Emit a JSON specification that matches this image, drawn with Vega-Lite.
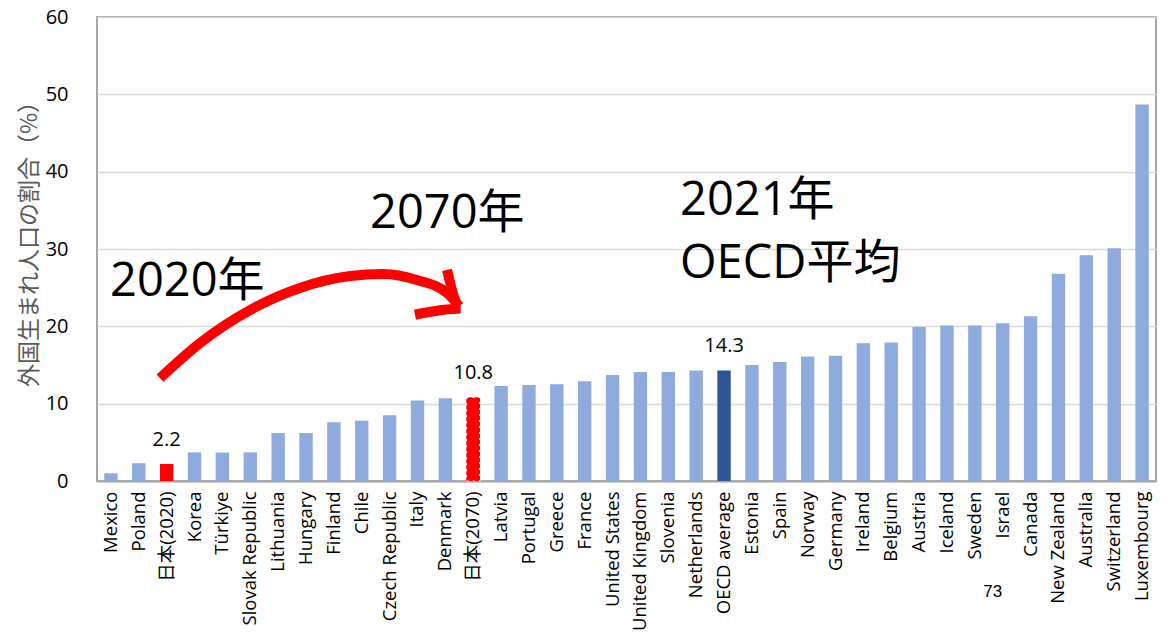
{
  "$schema": "https://vega.github.io/schema/vega-lite/v6.json",
  "autosize": {"type": "none"},
  "width": 1059,
  "height": 464,
  "padding": {"left": 97, "top": 17, "right": 20, "bottom": 156},
  "background": "white",
  "config": {
    "font": "Open Sans, Noto Sans CJK JP",
    "view": {"stroke": "#A6A6A6", "strokeWidth": 2}
  },
  "datasets": {
    "main": [
      {"country": "Mexico", "value": 1.0, "kind": "other"},
      {"country": "Poland", "value": 2.3, "kind": "other"},
      {"country": "日本(2020)", "value": 2.2, "kind": "jp", "label": "2.2"},
      {"country": "Korea", "value": 3.7, "kind": "other"},
      {"country": "Türkiye", "value": 3.7, "kind": "other"},
      {"country": "Slovak Republic", "value": 3.7, "kind": "other"},
      {"country": "Lithuania", "value": 6.2, "kind": "other"},
      {"country": "Hungary", "value": 6.2, "kind": "other"},
      {"country": "Finland", "value": 7.6, "kind": "other"},
      {"country": "Chile", "value": 7.8, "kind": "other"},
      {"country": "Czech Republic", "value": 8.5, "kind": "other"},
      {"country": "Italy", "value": 10.4, "kind": "other"},
      {"country": "Denmark", "value": 10.7, "kind": "other"},
      {"country": "日本(2070)", "value": 10.8, "kind": "jp", "label": "10.8"},
      {"country": "Latvia", "value": 12.3, "kind": "other"},
      {"country": "Portugal", "value": 12.4, "kind": "other"},
      {"country": "Greece", "value": 12.5, "kind": "other"},
      {"country": "France", "value": 12.9, "kind": "other"},
      {"country": "United States", "value": 13.7, "kind": "other"},
      {"country": "United Kingdom", "value": 14.1, "kind": "other"},
      {"country": "Slovenia", "value": 14.1, "kind": "other"},
      {"country": "Netherlands", "value": 14.3, "kind": "other"},
      {"country": "OECD average", "value": 14.3, "kind": "oecd", "label": "14.3"},
      {"country": "Estonia", "value": 15.0, "kind": "other"},
      {"country": "Spain", "value": 15.4, "kind": "other"},
      {"country": "Norway", "value": 16.1, "kind": "other"},
      {"country": "Germany", "value": 16.2, "kind": "other"},
      {"country": "Ireland", "value": 17.8, "kind": "other"},
      {"country": "Belgium", "value": 17.9, "kind": "other"},
      {"country": "Austria", "value": 19.9, "kind": "other"},
      {"country": "Iceland", "value": 20.1, "kind": "other"},
      {"country": "Sweden", "value": 20.1, "kind": "other"},
      {"country": "Israel", "value": 20.4, "kind": "other"},
      {"country": "Canada", "value": 21.3, "kind": "other"},
      {"country": "New Zealand", "value": 26.8, "kind": "other"},
      {"country": "Australia", "value": 29.2, "kind": "other"},
      {"country": "Switzerland", "value": 30.1, "kind": "other"},
      {"country": "Luxembourg", "value": 48.7, "kind": "other"}
    ],
    "notes": [
      {"text": "2020年", "idx": 0.47, "val": 23.9},
      {"text": "2070年", "idx": 9.8, "val": 32.7},
      {"text": "2021年", "idx": 20.92, "val": 34.4},
      {"text": "OECD平均", "idx": 20.92, "val": 26.25}
    ],
    "stray": [
      {"text": "73", "idx": 31.8, "val": -14.3}
    ],
    "arrow": [
      {"part": "curve", "ord": 1, "idx": 2.26, "val": 13.3},
      {"part": "curve", "ord": 2, "idx": 3.7, "val": 17.85},
      {"part": "curve", "ord": 3, "idx": 5.49, "val": 22.1},
      {"part": "curve", "ord": 4, "idx": 7.28, "val": 24.96},
      {"part": "curve", "ord": 5, "idx": 9.08, "val": 26.5},
      {"part": "curve", "ord": 6, "idx": 10.26, "val": 26.77},
      {"part": "curve", "ord": 7, "idx": 11.48, "val": 25.99},
      {"part": "curve", "ord": 8, "idx": 12.56, "val": 24.3},
      {"part": "curve", "ord": 9, "idx": 13.0, "val": 22.6},
      {"part": "head", "ord": 1, "idx": 12.56, "val": 27.3},
      {"part": "head", "ord": 2, "idx": 13.05, "val": 22.3},
      {"part": "head", "ord": 3, "idx": 11.41, "val": 21.5}
    ]
  },
  "layer": [
    {
      "data": {"name": "main"},
      "layer": [
        {
          "mark": {"type": "bar"},
          "encoding": {
            "x": {
              "field": "country", "type": "nominal", "sort": null,
              "scale": {"paddingInner": 0.52, "paddingOuter": 0.26},
              "axis": {
                "title": null, "labelAngle": -90, "labelAlign": "right", "labelBaseline": "middle",
                "labelFontSize": 18.5, "labelColor": "#000000", "labelPadding": 10, "ticks": false,
                "domainColor": "#A6A6A6", "domainWidth": 2, "labelLimit": 300
              }
            },
            "y": {
              "field": "value", "type": "quantitative",
              "scale": {"domain": [0, 60], "nice": false},
              "axis": {
                "values": [0, 10, 20, 30, 40, 50, 60],
                "title": "外国生まれ人口の割合（%）", "titleFontSize": 23, "titleFontWeight": "normal",
                "titleFont": "Noto Sans CJK JP",
                "titleColor": "#595959", "titleX": -68, "titleY": 221, "titleAngle": -90,
                "titleAlign": "center", "titleBaseline": "middle",
                "labelFontSize": 20, "labelColor": "#000000", "labelPadding": 29, "ticks": false,
                "domain": false, "gridColor": "#D9D9D9", "gridWidth": 1.5
              }
            },
            "color": {
              "field": "kind", "type": "nominal", "legend": null,
              "scale": {"domain": ["other", "jp", "oecd"], "range": ["#8FAADC", "#FF0000", "#2F5597"]}
            }
          }
        },
        {
          "transform": [{"filter": "datum.country === '日本(2070)'"}],
          "mark": {"type": "bar", "fill": "#FF0000", "stroke": "#FFFFFF", "strokeDash": [2, 4], "strokeWidth": 1.2},
          "encoding": {
            "x": {"field": "country", "type": "nominal", "sort": null},
            "y": {"field": "value", "type": "quantitative"}
          }
        },
        {
          "transform": [{"filter": "isValid(datum.label)"}],
          "mark": {"type": "text", "fontSize": 20, "color": "#000000", "baseline": "alphabetic", "dy": -18},
          "encoding": {
            "x": {"field": "country", "type": "nominal", "sort": null},
            "y": {"field": "value", "type": "quantitative"},
            "text": {"field": "label"}
          }
        }
      ]
    },
    {
      "layer": [
        {
          "data": {"name": "arrow"},
          "mark": {"type": "line", "color": "#FF0000", "strokeWidth": 10, "strokeCap": "butt", "strokeJoin": "miter", "interpolate": "monotone"},
          "encoding": {
            "x": {"field": "idx", "type": "quantitative", "scale": {"domain": [0, 38], "nice": false, "zero": false}, "axis": null},
            "y": {"field": "val", "type": "quantitative"},
            "detail": {"field": "part"},
            "order": {"field": "ord"}
          }
        },
        {
          "data": {"name": "notes"},
          "mark": {"type": "text", "fontSize": 47, "align": "left", "baseline": "alphabetic", "color": "#000000"},
          "encoding": {
            "x": {"field": "idx", "type": "quantitative", "axis": null},
            "y": {"field": "val", "type": "quantitative"},
            "text": {"field": "text"}
          }
        },
        {
          "data": {"name": "stray"},
          "mark": {"type": "text", "fontSize": 17, "align": "left", "baseline": "middle", "color": "#000000", "font": "Liberation Sans Narrow, Liberation Sans"},
          "encoding": {
            "x": {"field": "idx", "type": "quantitative", "axis": null},
            "y": {"field": "val", "type": "quantitative"},
            "text": {"field": "text"}
          }
        }
      ]
    }
  ],
  "resolve": {"scale": {"x": "independent"}}
}
